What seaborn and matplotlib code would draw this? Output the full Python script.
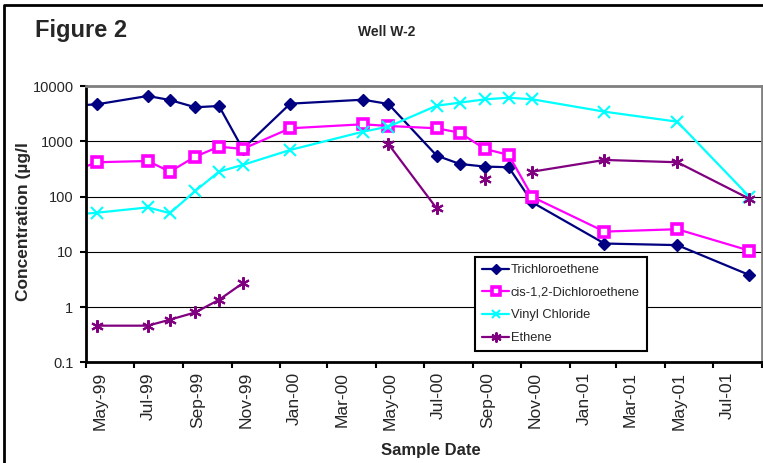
import matplotlib
matplotlib.use("Agg")
import matplotlib.pyplot as plt
from matplotlib.lines import Line2D
from matplotlib.ticker import NullLocator
import seaborn as sns
import pandas as pd

# sample dates (first one lies before the plotted window, as in the source chart)
sample_dates = ["1999-04-15", "1999-05-15", "1999-07-18", "1999-08-15", "1999-09-16",
                "1999-10-16", "1999-11-15", "2000-01-14", "2000-04-15", "2000-05-17",
                "2000-07-17", "2000-08-15", "2000-09-16", "2000-10-16", "2000-11-15",
                "2001-02-14", "2001-05-17", "2001-08-16"]

tce = [4400, 4670, 6600, 5580, 4120, 4350, 726, 4790, 5650, 4730,
       550, 389, 348, 339, 78, 14.1, 13.2, 3.8]
dce = [290, 417, 440, 282, 527, 798, 726, 1718, 2030, 1890,
       1718, 1430, 726, 565, 98, 23.2, 25.6, 10.5]
vinyl = [47, 51, 63.5, 50, 126, 282, 373, 696, 1490, 1840,
         4400, 4990, 5740, 6140, 5740, 3430, 2260, 99.5]
ethene = [None, 0.46, 0.46, 0.59, 0.80, 1.35, 2.7, None, None, 890,
          61, None, 208, None, 282, 459, 417, 91]

tick_dates = ["1999-05-01", "1999-07-01", "1999-09-01", "1999-11-01", "2000-01-01",
              "2000-03-01", "2000-05-01", "2000-07-01", "2000-09-01", "2000-11-01",
              "2001-01-01", "2001-03-01", "2001-05-01", "2001-07-01", "2001-09-01"]
tick_labels = ["May-99", "Jul-99", "Sep-99", "Nov-99", "Jan-00", "Mar-00", "May-00",
               "Jul-00", "Sep-00", "Nov-00", "Jan-01", "Mar-01", "May-01", "Jul-01"]
y_ticks = [0.1, 1, 10, 100, 1000, 10000]
y_labels = ["0.1", "1", "10", "100", "1000", "10000"]

series = {
    "Trichloroethene": tce,
    "cis-1,2-Dichloroethene": dce,
    "Vinyl Chloride": vinyl,
    "Ethene": ethene,
}
styles = {
    "Trichloroethene": dict(color="#000080", marker="D", markersize=6.5,
                            markerfacecolor="#000080", markeredgecolor="#000080",
                            markeredgewidth=1),
    "cis-1,2-Dichloroethene": dict(color="#ff00ff", marker="s", markersize=6.5,
                                   markerfacecolor="white", markeredgecolor="#ff00ff",
                                   markeredgewidth=2.6),
    "Vinyl Chloride": dict(color="#00ffff", marker="x", markersize=8,
                           markeredgecolor="#00ffff", markeredgewidth=1.5),
    "Ethene": dict(color="#800080", marker=(6, 2, 0), markersize=9,
                   markeredgecolor="#800080", markeredgewidth=1.5),
}

sns.set_style("white")
plt.rcParams["font.family"] = ["Liberation Sans", "DejaVu Sans"]

fig = plt.figure(figsize=(7.63, 4.63), dpi=100)
ax = fig.add_axes([86 / 763, 1 - 362.3 / 463, 676 / 763, 276.3 / 463])

dates = pd.to_datetime(sample_dates)
for name, vals in series.items():
    d = pd.DataFrame({"date": dates, "value": pd.to_numeric(pd.Series(vals), errors="coerce")})
    d["seg"] = d["value"].isna().cumsum()
    d = d.dropna(subset=["value"])
    sns.lineplot(data=d, x="date", y="value", units="seg", estimator=None, sort=False,
                 ax=ax, lw=1.6, label=name, legend=False, **styles[name])

ax.set_yscale("log")
ax.set_ylim(0.1, 10000)
ax.set_yticks(y_ticks, labels=y_labels)
ax.yaxis.set_minor_locator(NullLocator())
ax.set_xlim(pd.Timestamp(tick_dates[0]), pd.Timestamp(tick_dates[-1]))

tick_pos = pd.to_datetime(tick_dates)
ax.set_xticks(tick_pos, labels=[""] * len(tick_pos))
label_pos = tick_pos[:-1] + pd.Timedelta(days=18)
ax.set_xticks(label_pos, labels=tick_labels, minor=True)

ax.tick_params(axis="x", which="major", direction="out", length=4.5, width=1.5,
               color="black", bottom=True)
ax.tick_params(axis="x", which="minor", length=0, pad=7, labelsize=12.5,
               labelrotation=90, bottom=True)
ax.tick_params(axis="y", which="major", direction="out", length=4, width=1.5,
               color="black", left=True, pad=5, labelsize=10.5)

ax.set_xlabel("")
ax.set_ylabel("")
ax.yaxis.grid(True, which="major", color="black", lw=0.8)
ax.xaxis.grid(False)

for side in ["left", "bottom"]:
    ax.spines[side].set_color("black")
    ax.spines[side].set_linewidth(2)
for side in ["top", "right"]:
    ax.spines[side].set_color("#808080")
    ax.spines[side].set_linewidth(2)

handles, labels = ax.get_legend_handles_labels()
uniq = dict(zip(labels, handles))
leg = ax.legend(list(uniq.values()), list(uniq.keys()), loc="upper left",
                bbox_to_anchor=(0.5754, 0.381), borderaxespad=0, frameon=True,
                fancybox=False, edgecolor="black", framealpha=1, fontsize=9.3,
                handlelength=2.1, handletextpad=0.12, labelspacing=0.82,
                borderpad=0.55, markerscale=0.8)
leg.get_frame().set_linewidth(1.5)

fig.text(35 / 763, 1 - 30 / 463, "Figure 2", ha="left", va="center",
         fontsize=17, fontweight="bold")
fig.text(387 / 763, 1 - 32 / 463, "Well W-2", ha="center", va="center",
         fontsize=10, fontweight="bold")
fig.text(24 / 763, 1 - 222 / 463, "Concentration (µg/l", ha="center", va="center",
         rotation=90, fontsize=12.5, fontweight="bold")
fig.text(431 / 763, 1 - 451 / 463, "Sample Date", ha="center", va="center",
         fontsize=12, fontweight="bold")

# outer chart frame (cut off at the right and bottom in the original)
fig.add_artist(Line2D([3.5 / 763, 3.5 / 763, 1.01], [-0.01, 1 - 5 / 463, 1 - 5 / 463],
                      transform=fig.transFigure, color="black", lw=2))

fig.savefig("out.png", dpi=100)
